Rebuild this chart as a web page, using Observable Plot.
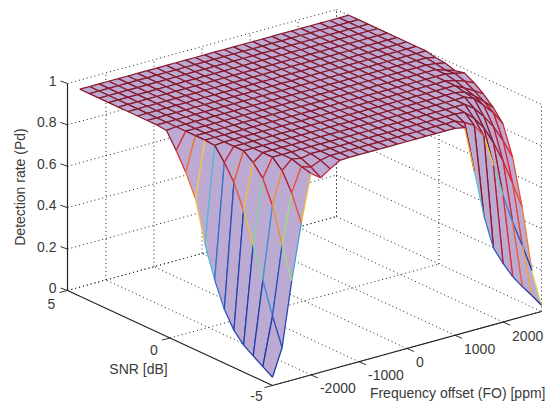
<!DOCTYPE html>
<html><head><meta charset="utf-8">
<script src="https://cdn.jsdelivr.net/npm/d3@7"></script>
<script src="https://cdn.jsdelivr.net/npm/@observablehq/plot@0.6"></script>
<style>html,body{margin:0;padding:0;background:#fff}svg{display:block}</style>
</head><body><div id="chart"></div>
<script>
// Axis ticks
const foTicks = [-2000,-1000,0,1000,2000];
const snrTicks = [-5,0,5];
const pdTicks = [0,0.2,0.4,0.6,0.8,1];
// Grid
const foValues = [-2800,-2600,-2400,-2200,-2000,-1800,-1600,-1400,-1200,-1000,-800,-600,-400,-200,0,200,400,600,800,1000,1200,1400,1600,1800,2000,2200,2400,2600,2800];
const snrValues = [-5,-4.53,-4.06,-3.59,-3.12,-2.65,-2.18,-1.71,-1.24,-0.77,-0.3,0.17,0.64,1.11,1.58,2.05,2.52,2.99,3.46,3.93,4.4];
// Detection rate, one row per SNR value, one column per FO value
const pd00 = [.04,.17,.48,.745,.973,.94,.97,.998,1,1,1,1,1,1,1,1,1,1,1,1,.99,.77,.54,.37,.283,.207,.146,.09,.03];
const pd01 = [.07,.30,.63,.87,.985,.97,.99,1,1,1,1,1,1,1,1,1,1,1,1,1,1,.98,.954,.89,.735,.577,.434,.31,.176];
const pd02 = [.10,.45,.80,.957,1,.99,1,1,1,1,1,1,1,1,1,1,1,1,1,1,1,1,.995,.953,.895,.81,.71,.587,.46];
const pd03 = [.13,.60,.91,1,1,1,1,1,1,1,1,1,1,1,1,1,1,1,1,1,1,1,1,1,.967,.915,.854,.774,.68];
const pd04 = [.18,.746,.965,1,1,1,1,1,1,1,1,1,1,1,1,1,1,1,1,1,1,1,1,1,1,.98,.934,.887,.82];
const pd05 = [.26,.86,1,1,1,1,1,1,1,1,1,1,1,1,1,1,1,1,1,1,1,1,1,1,1,.99,.96,.92,.877];
const pd06 = [.38,.935,1,1,1,1,1,1,1,1,1,1,1,1,1,1,1,1,1,1,1,1,1,1,1,1,.975,.95,.92];
const pd07 = [.53,.996,1,1,1,1,1,1,1,1,1,1,1,1,1,1,1,1,1,1,1,1,1,1,1,1,.99,.975,.954];
const pd08 = [.73,1,1,1,1,1,1,1,1,1,1,1,1,1,1,1,1,1,1,1,1,1,1,1,1,1,1,.99,.98];
const pd09 = [.835,1,1,1,1,1,1,1,1,1,1,1,1,1,1,1,1,1,1,1,1,1,1,1,1,1,1,.985,.97];
const pd10 = [.92,1,1,1,1,1,1,1,1,1,1,1,1,1,1,1,1,1,1,1,1,1,1,1,1,1,1,.995,.985];
const pd11 = [.995,1,1,1,1,1,1,1,1,1,1,1,1,1,1,1,1,1,1,1,1,1,1,1,1,1,1,1,.99];
const pd12 = [1,1,1,1,1,1,1,1,1,1,1,1,1,1,1,1,1,1,1,1,1,1,1,1,1,1,1,1,1];
const pd13 = pd12, pd14 = pd12, pd15 = pd12, pd16 = pd12, pd17 = pd12, pd18 = pd12, pd19 = pd12, pd20 = pd12;
const pdRows = [pd00,pd01,pd02,pd03,pd04,pd05,pd06,pd07,pd08,pd09,pd10,pd11,pd12,pd13,pd14,pd15,pd16,pd17,pd18,pd19,pd20];

// Fixed 3D view: orthographic projection of (FO, SNR, Pd) onto the page plane
const px = (fo, s) => 272 + (fo + 2800) * 269 / 5600 - (s + 5) * 20.5;
const py = (fo, s, z) => 385 - (fo + 2800) * 74 / 5600 - (s + 5) * 9.5 - 207 * z;
const P = (fo, s, z) => ({x: px(fo, s), y: py(fo, s, z)});

const grid = [];
const dots = {stroke: "#222", strokeWidth: 1, strokeDasharray: "1,3"};
const FOmin = -2800, FOmax = 2800, Smin = -5, Smax = 5;
const addLine = (a, b) => grid.push({x1: px(a[0],a[1]), y1: py(...a), x2: px(b[0],b[1]), y2: py(...b)});
for (const f of foTicks) { addLine([f,Smin,0],[f,Smax,0]); addLine([f,Smax,0],[f,Smax,1]); }
for (const s of snrTicks) { addLine([FOmin,s,0],[FOmax,s,0]); addLine([FOmax,s,0],[FOmax,s,1]); }
for (const z of pdTicks) { addLine([FOmin,Smax,z],[FOmax,Smax,z]); addLine([FOmax,Smax,z],[FOmax,Smin,z]); }
addLine([FOmax,Smax,0],[FOmax,Smax,1]);

const axes = [
  [[FOmin,Smax,0],[FOmin,Smax,1]],
  [[FOmin,Smax,0],[FOmin,Smin,0]],
  [[FOmin,Smin,0],[FOmax,Smin,0]]
].map(([a,b]) => ({x1:px(a[0],a[1]),y1:py(...a),x2:px(b[0],b[1]),y2:py(...b)}));

const tick = (a, dx, dy) => ({x1:px(a[0],a[1]),y1:py(...a),x2:px(a[0],a[1])+dx,y2:py(...a)+dy});
const ticks = [
  ...pdTicks.map(z => tick([FOmin,Smax,z],-7,-2.5)),
  ...snrTicks.map(s => tick([FOmin,s,0],-8,2)),
  ...foTicks.map(f => tick([f,Smin,0],7,3))
];

const marks = [];
marks.push(Plot.link(grid,{x1:"x1",y1:"y1",x2:"x2",y2:"y2",...dots}));
marks.push(Plot.link(ticks,{x1:"x1",y1:"y1",x2:"x2",y2:"y2",stroke:"#333",strokeWidth:1}));
marks.push(Plot.link(axes,{x1:"x1",y1:"y1",x2:"x2",y2:"y2",stroke:"#222",strokeWidth:1.2}));

// Painter's order: far corner (high SNR, high FO) first
const lastRow = snrValues.length - 1;
for (let i = snrValues.length - 2; i >= 0; i--) {
  for (let j = foValues.length - 2; j >= 0; j--) {
    const f0=foValues[j], f1=foValues[j+1], s0=snrValues[i], s1=snrValues[i+1];
    const z00=pdRows[i][j], z01=pdRows[i][j+1], z10=pdRows[i+1][j], z11=pdRows[i+1][j+1];
    const poly=[P(f0,s0,z00),P(f1,s0,z01),P(f1,s1,z11),P(f0,s1,z10)];
    marks.push(Plot.line(poly,{x:"x",y:"y",fill:"#bcaad2",stroke:"none"}));
    const e=(a,b,c)=>({x1:a.x,y1:a.y,x2:b.x,y2:b.y,c});
    // On the far (high FO) fold the mesh takes the colour of the mesh further up the fold
    const up=Math.min(i+3,lastRow);
    const near=j>=19;
    const edges=[
      e(poly[3],poly[2],near&&i>=1?pdRows[Math.min(i+4,lastRow)][j+1]:Math.min(z10,z11)),
      e(poly[1],poly[2],near?pdRows[up][j+1]:z11),
      e(poly[0],poly[3],j>=20?pdRows[up][j]:z10),
      e(poly[0],poly[1],near&&i>=2?pdRows[Math.min(i+3,lastRow)][j+1]:Math.min(z00,z01))
    ];
    marks.push(Plot.link(edges,{x1:"x1",y1:"y1",x2:"x2",y2:"y2",stroke:"c",strokeWidth:1.25}));
  }
}

const font = {fontFamily:"'Liberation Sans',Arial,sans-serif", fontSize:14, fill:"#3a3a3a", lineAnchor:"middle"};
const snrDy = {"5":14,"0":12.5,"-5":11.5};
for (const s of snrTicks) marks.push(Plot.text([s],{x:d=>px(FOmin,d),y:d=>py(FOmin,d,0),text:d=>String(d),textAnchor:"middle",dx:-16,dy:snrDy[s],...font}));
marks.push(Plot.text(pdTicks,{x:()=>px(FOmin,Smax),y:d=>py(FOmin,Smax,d),text:d=>String(d),textAnchor:"end",dx:-11,dy:-2,...font}));
marks.push(Plot.text(foTicks,{x:d=>px(d,Smin),y:d=>py(d,Smin,0),text:d=>String(d),textAnchor:"start",dx:9,dy:14,...font}));
marks.push(Plot.text(["Frequency offset (FO) [ppm]"],{x:()=>px(FOmax,Smin),y:()=>py(FOmax,Smin,0),text:d=>d,textAnchor:"end",dx:4,dy:82,...font}));
marks.push(Plot.text(["SNR [dB]"],{x:()=>px(FOmin,0),y:()=>py(FOmin,0,0),text:d=>d,textAnchor:"middle",dx:-31.5,dy:31.5,...font}));
marks.push(Plot.text(["Detection rate (Pd)"],{x:()=>px(FOmin,Smax),y:()=>py(FOmin,Smax,0.5),text:d=>d,textAnchor:"middle",rotate:-90,dx:-47,dy:0,...font}));

const chart = Plot.plot({
  width:555, height:403, margin:0,
  x:{axis:null,domain:[0,555],range:[0,555]},
  y:{axis:null,domain:[0,403],range:[0,403]},
  color:{type:"linear",domain:[0,.3,.45,.55,.62,.7,.8,.92,1],
    range:["#1a2f9e","#2a55c0","#3f8fd8","#58c4dc","#98d890","#f2e048","#f09030","#e02838","#86182c"]},
  marks
});
document.getElementById("chart").append(chart);
</script></body></html>
